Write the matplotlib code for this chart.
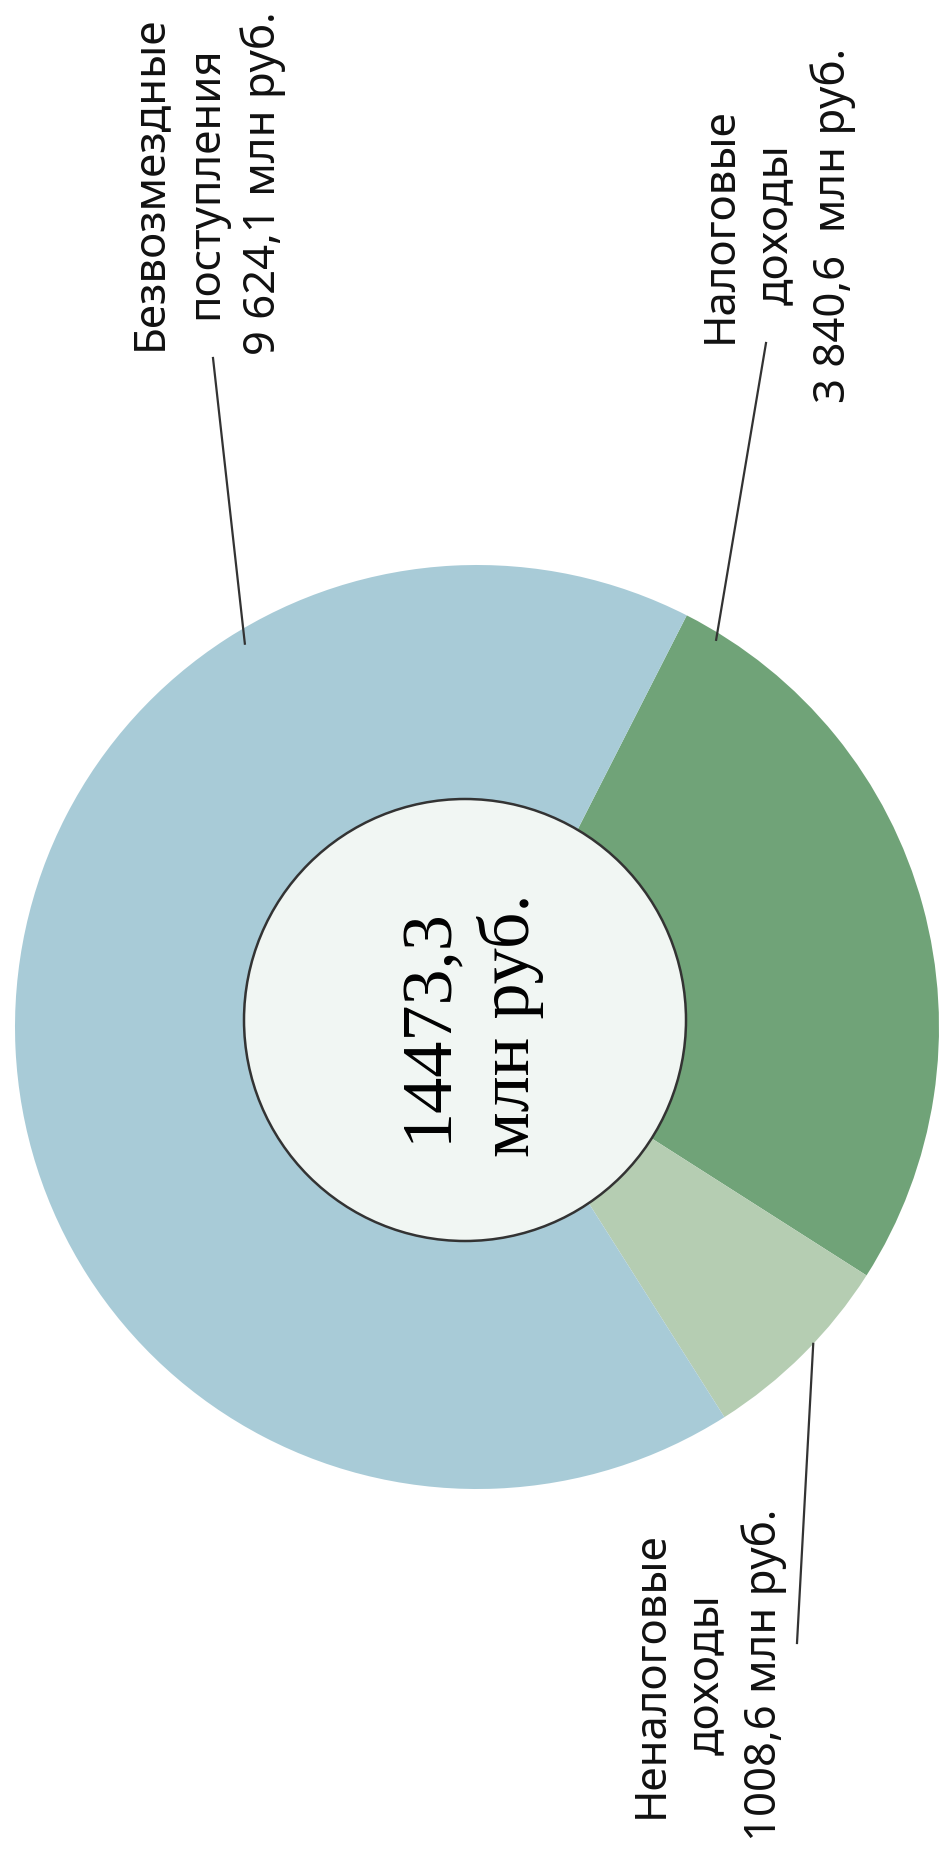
import numpy as np
import matplotlib.pyplot as plt
from matplotlib.patches import Circle

# Budget revenue structure, mln rub.
labels = ['Налоговые\nдоходы\n3 840,6  млн руб.',
          'Неналоговые\nдоходы\n1008,6 млн руб.',
          'Безвозмездные\nпоступления\n9 624,1 млн руб.']
values = [3840.6, 1008.6, 9624.1]
colors = ['#70a378', '#b5cdb2', '#a8cbd7']
total_text = '14473,3\nмлн руб.'

W, H = 945, 1867
fig = plt.figure(figsize=(W / 100, H / 100), dpi=100)
fig.patch.set_facecolor('white')
ax = fig.add_axes([0, 0, 1, 1])

cx, cy, R = 477, H - 1027, 462
start = 63
wedges, _ = ax.pie(values, colors=colors, startangle=start, counterclock=False,
                   radius=R, center=(cx, cy), wedgeprops=dict(linewidth=0))
ax.set_xlim(0, W)
ax.set_ylim(0, H)
ax.set_aspect('auto')
ax.axis('off')

# inner hole (drawn slightly off-centre, like the original)
ax.add_patch(Circle((465, H - 1020), 221, facecolor='#f1f6f3', edgecolor='#333333',
                    linewidth=1.8, zorder=3))

ax.text(470, H - 1025, total_text, rotation=90, ha='center', va='center',
        family='Liberation Serif', fontsize=52, linespacing=1.3, zorder=4)

font = ['Noto Sans', 'DejaVu Sans']
lab_pos = [(777, H - 225), (708, H - 1675), (207, H - 183)]
for lab, (x, y) in zip(labels, lab_pos):
    ax.text(x, y, lab, rotation=90, ha='center', va='center', family=font,
            fontsize=31.5, linespacing=1.35, multialignment='center', color='#111111')

def ring_point(ang, frac):
    a = np.deg2rad(ang)
    return cx + frac * R * np.cos(a), cy + frac * R * np.sin(a)

# leader lines: (angle on ring, radius fraction, free end)
leaders = [(58.3, 0.985, (766, H - 343)),
           (-43.3, 1.0, (797, H - 1643)),
           (121.2, 0.97, (213, H - 358))]
for ang, frac, (tx, ty) in leaders:
    px, py = ring_point(ang, frac)
    ax.plot([px, tx], [py, ty], color='#333333', linewidth=1.6, zorder=5)

plt.savefig('out.png', dpi=100)
